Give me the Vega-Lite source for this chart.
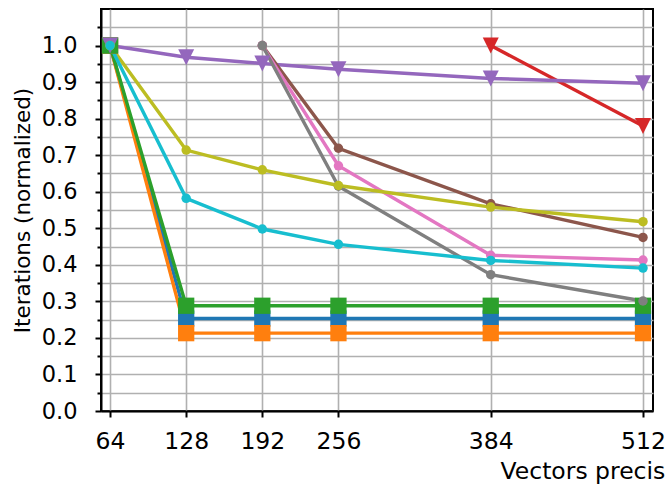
{
  "$schema": "https://vega.github.io/schema/vega-lite/v6.json",
  "width": 552,
  "height": 402,
  "autosize": {"type": "none"},
  "padding": {"left": 101, "top": 9, "right": 13, "bottom": 74},
  "config": {
    "font": "DejaVu Sans",
    "view": {"stroke": "black", "strokeWidth": 2}
  },
  "data": {
    "values": [
      {"series": "S1", "bits": 64, "value": 1.0},
      {"series": "S1", "bits": 128, "value": 0.253},
      {"series": "S1", "bits": 192, "value": 0.253},
      {"series": "S1", "bits": 256, "value": 0.253},
      {"series": "S1", "bits": 384, "value": 0.253},
      {"series": "S1", "bits": 512, "value": 0.253},
      {"series": "S2", "bits": 64, "value": 1.0},
      {"series": "S2", "bits": 128, "value": 0.213},
      {"series": "S2", "bits": 192, "value": 0.213},
      {"series": "S2", "bits": 256, "value": 0.213},
      {"series": "S2", "bits": 384, "value": 0.213},
      {"series": "S2", "bits": 512, "value": 0.213},
      {"series": "S3", "bits": 64, "value": 1.0},
      {"series": "S3", "bits": 128, "value": 0.288},
      {"series": "S3", "bits": 192, "value": 0.288},
      {"series": "S3", "bits": 256, "value": 0.288},
      {"series": "S3", "bits": 384, "value": 0.288},
      {"series": "S3", "bits": 512, "value": 0.288},
      {"series": "S4", "bits": 384, "value": 1.0},
      {"series": "S4", "bits": 512, "value": 0.78},
      {"series": "S5", "bits": 64, "value": 1.0},
      {"series": "S5", "bits": 128, "value": 0.968},
      {"series": "S5", "bits": 192, "value": 0.951},
      {"series": "S5", "bits": 256, "value": 0.935},
      {"series": "S5", "bits": 384, "value": 0.91},
      {"series": "S5", "bits": 512, "value": 0.897},
      {"series": "S6", "bits": 192, "value": 1.0},
      {"series": "S6", "bits": 256, "value": 0.719},
      {"series": "S6", "bits": 384, "value": 0.567},
      {"series": "S6", "bits": 512, "value": 0.475},
      {"series": "S7", "bits": 192, "value": 1.0},
      {"series": "S7", "bits": 256, "value": 0.671},
      {"series": "S7", "bits": 384, "value": 0.426},
      {"series": "S7", "bits": 512, "value": 0.413},
      {"series": "S8", "bits": 192, "value": 1.0},
      {"series": "S8", "bits": 256, "value": 0.615},
      {"series": "S8", "bits": 384, "value": 0.373},
      {"series": "S8", "bits": 512, "value": 0.301},
      {"series": "S9", "bits": 64, "value": 1.0},
      {"series": "S9", "bits": 128, "value": 0.714},
      {"series": "S9", "bits": 192, "value": 0.66},
      {"series": "S9", "bits": 256, "value": 0.617},
      {"series": "S9", "bits": 384, "value": 0.558},
      {"series": "S9", "bits": 512, "value": 0.518},
      {"series": "S10", "bits": 64, "value": 1.0},
      {"series": "S10", "bits": 128, "value": 0.582},
      {"series": "S10", "bits": 192, "value": 0.498},
      {"series": "S10", "bits": 256, "value": 0.456},
      {"series": "S10", "bits": 384, "value": 0.412},
      {"series": "S10", "bits": 512, "value": 0.391}
    ]
  },
  "encoding": {
    "x": {
      "field": "bits",
      "type": "quantitative",
      "scale": {"domain": [56.4, 520.4], "nice": false, "zero": false},
      "axis": {
        "values": [64, 128, 192, 256, 384, 512],
        "title": "Vectors precision (bits)",
        "titleFontSize": 23.5,
        "titleFontWeight": "normal",
        "titleColor": "black",
        "titleAnchor": "start",
        "titleAlign": "left",
        "titleBaseline": "alphabetic",
        "titleX": 399,
        "titleY": 67,
        "labelFontSize": 23.5,
        "labelColor": "black",
        "labelPadding": 12,
        "labelFlush": false,
        "labelOverlap": false,
        "tickSize": 6,
        "tickWidth": 2,
        "tickColor": "black",
        "domainColor": "black",
        "domainWidth": 2,
        "grid": true,
        "gridColor": "#b0b0b0",
        "gridWidth": 1.6
      }
    },
    "y": {
      "field": "value",
      "type": "quantitative",
      "scale": {"domain": [0, 1.1], "nice": false, "zero": true},
      "axis": {
        "values": [0, 0.05, 0.1, 0.15, 0.2, 0.25, 0.3, 0.35, 0.4, 0.45, 0.5, 0.55, 0.6, 0.65, 0.7, 0.75, 0.8, 0.85, 0.9, 0.95, 1.0, 1.05],
        "labelExpr": "round(datum.value*20) % 2 == 0 ? format(datum.value, '.1f') : ''",
        "title": "Iterations (normalized)",
        "titleFontSize": 21.5,
        "titleFontWeight": "normal",
        "titleColor": "black",
        "titleBaseline": "alphabetic",
        "titleX": -72,
        "titleY": 201,
        "labelFontSize": 22.5,
        "labelColor": "black",
        "labelPadding": 18,
        "labelOverlap": false,
        "labelFlush": false,
        "tickSize": {"condition": {"test": "round(datum.value*20) % 2 == 0", "value": 6}, "value": 4},
        "tickWidth": 2,
        "tickColor": "black",
        "domainColor": "black",
        "domainWidth": 2,
        "grid": true,
        "gridColor": "#b0b0b0",
        "gridWidth": 1.6
      }
    },
    "color": {
      "field": "series",
      "type": "nominal",
      "scale": {
        "domain": ["S1", "S2", "S3", "S4", "S5", "S6", "S7", "S8", "S9", "S10"],
        "range": ["#1f77b4", "#ff7f0e", "#2ca02c", "#d62728", "#9467bd", "#8c564b", "#e377c2", "#7f7f7f", "#bcbd22", "#17becf"]
      },
      "legend": null
    }
  },
  "layer": [
    {
      "mark": {"type": "line", "strokeWidth": 3.4, "clip": true}
    },
    {
      "mark": {"type": "point", "filled": true, "opacity": 1, "strokeWidth": 0, "clip": false},
      "encoding": {
        "shape": {
          "field": "series",
          "type": "nominal",
          "scale": {
            "type": "ordinal",
            "domain": ["S1", "S2", "S3", "S4", "S5", "S6", "S7", "S8", "S9", "S10"],
            "range": ["square", "square", "square", "M-1,-1L1,-1L0,1Z", "M-1,-1L1,-1L0,1Z", "circle", "circle", "circle", "circle", "circle"]
          },
          "legend": null
        },
        "size": {
          "field": "series",
          "type": "nominal",
          "scale": {
            "type": "ordinal",
            "domain": ["S1", "S2", "S3", "S4", "S5", "S6", "S7", "S8", "S9", "S10"],
            "range": [265, 265, 265, 256, 256, 90, 90, 90, 90, 90]
          },
          "legend": null
        }
      }
    }
  ]
}
